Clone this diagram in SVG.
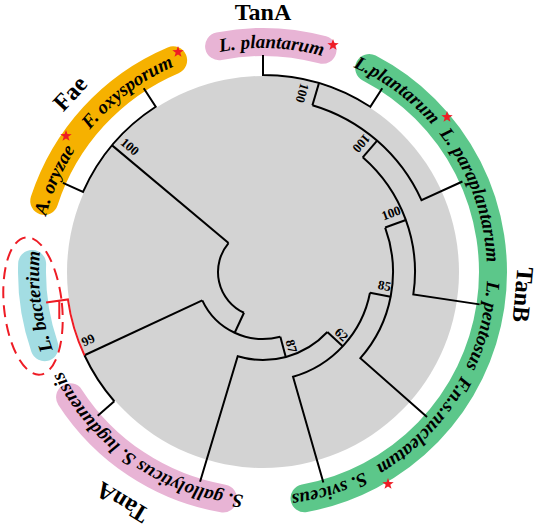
<svg xmlns="http://www.w3.org/2000/svg" xmlns:xlink="http://www.w3.org/1999/xlink" width="540" height="528" viewBox="0 0 540 528">
<style>
.br{fill:none;stroke:#000;stroke-width:2;stroke-linejoin:miter}
.red{fill:none;stroke:#ee1c25;stroke-width:2}
.pill{fill:none;stroke-width:28;stroke-linecap:round}
.lbl{font-family:"Liberation Serif","Times New Roman",serif;font-weight:bold;font-style:italic;font-size:19px;fill:#000}
.grp{font-family:"Liberation Serif","Times New Roman",serif;font-weight:bold;font-size:24px;fill:#000}
.bs{font-family:"Liberation Serif","Times New Roman",serif;font-weight:bold;font-size:13px;fill:#000;text-anchor:middle}
</style>
<defs>
<path id="ring" d="M 263 496 A 224 224 0 1 1 263 48 A 224 224 0 1 1 263 496"/>
<polygon id="star" fill="#ee1c25" points="0,-6 1.411,-1.942 5.706,-1.854 2.283,0.742 3.527,4.854 0,2.4 -3.527,4.854 -2.283,0.742 -5.706,-1.854 -1.411,-1.942"/>
</defs>
<rect width="540" height="528" fill="#fff"/>
<circle cx="263" cy="272" r="196" fill="#d3d3d3"/>

<g id="pills">
<path class="pill" stroke="#e8b4d5" d="M 219.11 46.23 A 230 230 0 0 1 322.53 49.84"/>
<path class="pill" stroke="#f6b100" d="M 44.26 200.93 A 230 230 0 0 1 173.13 60.28"/>
<path class="pill" stroke="#a3dde3" stroke-width="25" d="M 44.58 347.21 A 231 231 0 0 1 32.14 263.94"/>
<path class="pill" stroke="#e8b4d5" d="M 223.06 498.51 A 230 230 0 0 1 70.1 397.27"/>
<path class="pill" stroke="#5cc78a" stroke-width="29" d="M 369.2 67.99 A 230 230 0 0 1 304.52 498.22"/>
</g>

<g id="connectors">
<path class="br" d="M 243.98 312.78 A 45 45 0 0 1 228.53 243.07"/>
<path class="br" d="M 243.98 312.78 L 234.69 332.72"/>
<path class="br" d="M 280.34 336.72 A 67 67 0 0 1 202.28 300.31"/>
<path class="br" d="M 202.28 300.31 L 84.46 355.25"/>
<path class="br" d="M 114.32 401.25 A 197 197 0 0 1 84.46 355.25"/>
<path class="br" d="M 114.32 401.25 L 97.72 415.69"/>
<path class="red" d="M 84.46 355.25 A 197 197 0 0 1 67.91 299.42 L 46.12 302.48 M 59.3 301.5 L 59.3 319"/>
<path class="br" d="M 228.53 243.07 L 112.1 145.37"/>
<path class="br" d="M 62.94 182.93 L 83.04 191.88 A 197 197 0 0 1 155.71 106.78 L 143.73 88.32"/>
<path class="br" d="M 280.34 336.72 L 285.77 357"/>
<path class="br" d="M 327.36 332.02 A 88 88 0 0 1 237.71 356.29 L 200.06 481.76"/>
<path class="br" d="M 327.36 332.02 L 342.72 346.34"/>
<path class="br" d="M 370 292.8 A 109 109 0 0 1 293.04 376.78 L 323.36 482.52"/>
<path class="br" d="M 370 292.8 L 390.61 296.8"/>
<path class="br" d="M 385.16 227.54 A 130 130 0 0 1 360.37 358.14 L 427.03 417.11"/>
<path class="br" d="M 385.16 227.54 L 405.83 220.02"/>
<path class="br" d="M 362.73 157.29 A 152 152 0 0 1 413.33 294.47 L 479.59 304.37"/>
<path class="br" d="M 362.73 157.29 L 377.16 140.68"/>
<path class="br" d="M 312.42 105.17 A 174 174 0 0 1 421.46 200.12 L 462.44 181.53"/>
<path class="br" d="M 312.42 105.17 L 318.95 83.12"/>
<path class="br" d="M 263 55 L 263 75 A 197 197 0 0 1 370.29 106.78 L 382.27 88.32"/>
</g>

<g id="bootstrap">
<text class="bs" transform="translate(302.5,93) rotate(106)" y="4.5">100</text>
<text class="bs" transform="translate(361.5,143.5) rotate(131)" y="4.5">100</text>
<text class="bs" transform="translate(391,213) rotate(-20)" y="4.5">100</text>
<text class="bs" transform="translate(384.5,285.5) rotate(11)" y="4.5">85</text>
<text class="bs" transform="translate(341.5,334.5) rotate(43)" y="4.5">62</text>
<text class="bs" transform="translate(291.5,346) rotate(75)" y="4.5">87</text>
<text class="bs" transform="translate(88,340) rotate(-25)" y="4.5">99</text>
<text class="bs" transform="translate(130,146.5) rotate(40)" y="4.5">100</text>
</g>

<g id="leaf-tanA-lplantarum"><text class="lbl" text-anchor="middle"><textPath href="#ring" startOffset="50.61%">L. plantarum</textPath></text><use href="#star" x="333" y="45"/></g>
<g id="leaf-aoryzae"><text class="lbl" text-anchor="middle"><textPath href="#ring" startOffset="31.61%">A. oryzae</textPath></text><use href="#star" x="66" y="136"/></g>
<g id="leaf-foxysporum"><text class="lbl" text-anchor="middle"><textPath href="#ring" startOffset="39.72%">F. oxysporum</textPath></text><use href="#star" x="178" y="52"/></g>
<g id="leaf-lbacterium">
<ellipse cx="33" cy="306" rx="29" ry="69" transform="rotate(-6 33 306)" fill="none" stroke="#ee1c25" stroke-width="2" stroke-dasharray="12 7"/>
<text class="lbl" text-anchor="middle"><textPath href="#ring" startOffset="22.92%">L. bacterium</textPath></text></g>
<g id="leaf-sgallolyticus"><text class="lbl" text-anchor="middle"><textPath href="#ring" startOffset="9.56%">S. gallolyticus S. lugdunensis</textPath></text></g>
<g id="leaf-tanB-lplantarum"><text class="lbl" text-anchor="middle"><textPath href="#ring" startOffset="60.11%">L.plantarum</textPath></text><use href="#star" x="447" y="117"/></g>
<g id="leaf-lparaplantarum"><text class="lbl" text-anchor="middle"><textPath href="#ring" startOffset="69.36%">L. paraplantarum</textPath></text></g>
<g id="leaf-lpentosus"><text class="lbl" text-anchor="middle"><textPath href="#ring" startOffset="78.83%">L. pentosus</textPath></text></g>
<g id="leaf-fnsnucleatum"><text class="lbl" text-anchor="middle"><textPath href="#ring" startOffset="87.14%">F.n.s.nucleatum</textPath></text><use href="#star" x="388" y="484"/></g>
<g id="leaf-ssviceus"><text class="lbl" text-anchor="middle"><textPath href="#ring" startOffset="95.28%">S. sviceus</textPath></text></g>

<g id="group-labels">
<text class="grp" x="263" y="20" text-anchor="middle">TanA</text>
<text class="grp" x="263" y="17" text-anchor="middle" transform="rotate(-47.2 263 272)">Fae</text>
<text class="grp" x="263" y="19" text-anchor="middle" transform="rotate(95 263 272)">TanB</text>
<text class="grp" x="263" y="10" text-anchor="middle" transform="rotate(211.4 263 272)">TanA</text>
</g>
</svg>
